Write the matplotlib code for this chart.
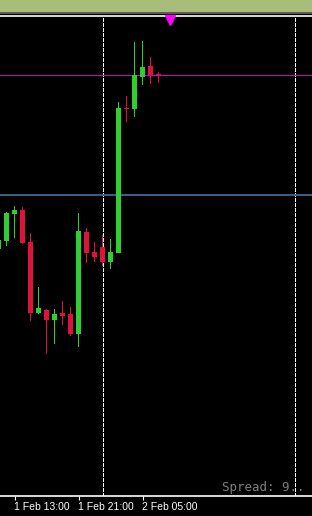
import numpy as np
import pandas as pd
import matplotlib
matplotlib.use("Agg")
import matplotlib.pyplot as plt
from matplotlib.patches import Rectangle

# hourly candles, 1 Feb 11:00 onwards
start_time = "2024-02-01 11:00"
opens  = [2055.1, 2055.9, 2058.6, 2059.0, 2055.8, 2048.7, 2049.0, 2048.0, 2048.7, 2048.6, 2046.6,
          2056.8, 2054.8, 2055.3, 2053.8, 2054.7, 2069.2, 2069.1, 2072.3, 2073.4, 2072.6]
highs  = [2056.3, 2058.8, 2059.4, 2059.3, 2056.7, 2051.3, 2049.1, 2049.1, 2049.9, 2049.3, 2058.7,
          2057.2, 2055.8, 2056.5, 2056.1, 2069.8, 2070.4, 2075.8, 2075.9, 2074.3, 2072.8]
lows   = [2054.8, 2055.4, 2056.2, 2055.6, 2047.9, 2048.6, 2044.6, 2045.6, 2047.5, 2046.4, 2045.3,
          2053.7, 2053.8, 2053.4, 2053.1, 2054.7, 2067.8, 2068.3, 2071.5, 2071.6, 2071.7]
closes = [2056.0, 2058.7, 2059.0, 2055.7, 2048.7, 2049.2, 2048.0, 2048.6, 2048.4, 2046.6, 2056.9,
          2054.7, 2054.3, 2053.8, 2054.8, 2069.2, 2069.1, 2072.5, 2073.3, 2072.5, 2072.5]
level_magenta = 2072.5
level_blue = 2060.55
spread_text = "Spread: 9.."

UP = "#32cd32"
DOWN = "#dc143c"
PX = 0.1  # price per pixel

times = pd.date_range(start_time, periods=40, freq="h")
idx = np.arange(len(opens))

fig = plt.figure(figsize=(3.12, 5.16), dpi=100, facecolor="black")
# top bar of the terminal window
fig.patches.append(Rectangle((0, 1 - 12 / 516), 1, 12 / 516, transform=fig.transFigure,
                             facecolor="#a9bd7b", edgecolor="none"))
fig.patches.append(Rectangle((0, 1 - 14 / 516), 1, 2 / 516, transform=fig.transFigure,
                             facecolor="#5a5a5a", edgecolor="none"))

ax = fig.add_axes([0, 20 / 516, 1, 480 / 516])
ax.set_facecolor("black")
ax.set_xlim(0.1875, 39.1875)
ax.set_ylim(2080 - 496 * PX, 2080 - 16 * PX)

for s in ["left", "right"]:
    ax.spines[s].set_visible(False)
for s in ["top", "bottom"]:
    ax.spines[s].set_color("white")
    ax.spines[s].set_linewidth(1.2)

# day separators
for i, t in enumerate(times):
    if t.hour == 0:
        ax.axvline(i, color="white", lw=0.72, dashes=(3, 2), antialiased=False, zorder=1)

ax.axhline(level_magenta, color="#cc00cc", lw=0.72, antialiased=False, zorder=1)
ax.axhline(level_blue, color="#3d6187", lw=1.4, zorder=1)

o = np.array(opens); c = np.array(closes)
colors = [UP if cc > oo else DOWN for oo, cc in zip(o, c)]
# wicks and bodies as pixel-wide bars
ax.bar(idx, np.array(highs) - np.array(lows), bottom=lows, width=0.125, color=colors,
       linewidth=0, antialiased=False, zorder=2)
bottoms = np.minimum(o, c)
heights = np.maximum(np.abs(c - o), PX)
ax.bar(idx, heights, bottom=bottoms, width=0.625, color=colors, linewidth=0,
       antialiased=False, zorder=3)

# chart shift marker
ax.plot([170.5 / 312], [1 - 3.5 / 480], marker="v", color="#ff00ff", markersize=6.5,
        transform=ax.transAxes, clip_on=False, zorder=5)

ax.text(222 / 312, 5 / 480, spread_text, transform=ax.transAxes, color="#808080",
        fontsize=9, family="DejaVu Sans Mono", va="baseline", ha="left", zorder=0)

tick_pos = [i for i, t in enumerate(times) if t.hour in (5, 13, 21) and i < 24]
ax.set_xticks(tick_pos)
ax.set_xticklabels([f"{t.day} {t.strftime('%b %H:%M')}" for t in times[tick_pos]],
                   ha="left", color="white", fontsize=7.5, family="Liberation Sans")
ax.tick_params(axis="x", colors="white", length=3, width=0.8, pad=1.5)
ax.set_yticks([])

fig.savefig("out.png", dpi=100, facecolor="black")
